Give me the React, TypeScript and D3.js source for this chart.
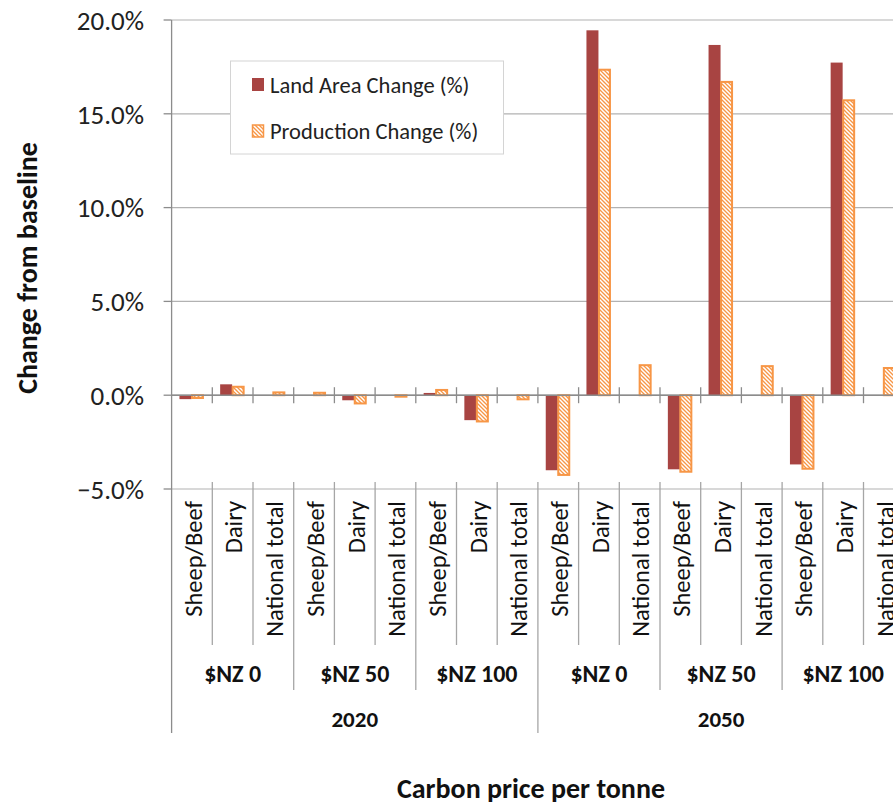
import React from "react";
import * as d3 from "d3";

// Categories (innermost level), carbon price groups, and years
const sectors = ["Sheep/Beef", "Dairy", "National total"];
const prices = ["$NZ 0", "$NZ 50", "$NZ 100"];
const years = ["2020", "2050"];

// Percent change from baseline, one value per sector x price x year
const landChange = [-0.21, 0.58, 0, 0, -0.27, 0, 0.12, -1.33, 0, -4.0, 19.45, 0, -3.95, 18.67, 0, -3.69, 17.73, 0];
const prodChange = [-0.15, 0.45, 0.15, 0.13, -0.44, -0.08, 0.28, -1.4, -0.22, -4.25, 17.35, 1.6, -4.08, 16.7, 1.55, -3.92, 15.72, 1.45];

const yTicks = [-5, 0, 5, 10, 15, 20];
const seriesNames = ["Land Area Change (%)", "Production Change (%)"];

const W = 893;
const H = 805;
const LAND = "#A84442";
const ORANGE = "#F79646";
const FONT = "Calibri, Carlito, Lato, sans-serif";

export default function App() {
  const keys = d3.range(landChange.length);
  const x = d3.scaleBand<number>().domain(keys).range([171.6, 171.6 + 18 * 40.7]);
  const y = d3.scaleLinear().domain([-5, 20]).range([489, 20]);
  const x0 = x.range()[0];
  const xEnd = x.range()[1];
  const step = x.step();
  const fmt = d3.format(".1f");

  const catLabel = (i: number) => sectors[i % 3];
  const groups = d3.range(6);

  return (
    <svg
      width={W}
      height={H}
      style={{ position: "absolute", left: 0, top: 0, background: "#fff" }}
      fontFamily={FONT}
    >
      <defs>
        <pattern id="hatch" patternUnits="userSpaceOnUse" width={4} height={4}>
          <rect width={4} height={4} fill={ORANGE} />
          <path d="M-1,-1 L5,5 M3,-1 L5,1 M-1,3 L1,5" stroke="#fff" strokeWidth={1.5} />
        </pattern>
      </defs>

      {/* horizontal gridlines */}
      {yTicks.map((t) => (
        <line key={t} x1={x0} x2={xEnd} y1={y(t)} y2={y(t)} stroke="#B2B2B2" strokeWidth={1.2} />
      ))}

      {/* y axis */}
      <line x1={x0} x2={x0} y1={y(20)} y2={733} stroke="#8C8C8C" strokeWidth={1.3} />
      {yTicks.map((t) => (
        <g key={t}>
          <line x1={x0 - 8} x2={x0} y1={y(t)} y2={y(t)} stroke="#8C8C8C" strokeWidth={1.3} />
          <text x={144} y={y(t)} dy="0.36em" textAnchor="end" fontSize={27} fill="#222">
            {fmt(t) + "%"}
          </text>
        </g>
      ))}

      {/* bars */}
      {keys.map((i) => {
        const c = (x(i) as number) + step / 2;
        const lv = landChange[i];
        const pv = prodChange[i];
        return (
          <g key={i}>
            {lv !== 0 && (
              <rect x={c - 12.5} width={12} y={Math.min(y(lv), y(0))} height={Math.abs(y(lv) - y(0))} fill={LAND} />
            )}
            {pv !== 0 && (
              <rect
                x={c}
                width={11}
                y={Math.min(y(pv), y(0))}
                height={Math.abs(y(pv) - y(0))}
                fill="url(#hatch)"
                stroke={ORANGE}
                strokeWidth={2}
              />
            )}
          </g>
        );
      })}

      {/* zero axis with crossing tick marks */}
      <line x1={x0} x2={xEnd} y1={y(0)} y2={y(0)} stroke="#8C8C8C" strokeWidth={1.5} />
      {d3.range(1, 18).map((k) => (
        <line key={k} x1={x0 + k * step} x2={x0 + k * step} y1={y(0) - 8} y2={y(0) + 8} stroke="#8C8C8C" strokeWidth={1.3} />
      ))}

      {/* multi-level category separators */}
      {d3.range(1, 19).map((k) => {
        const bottom = k % 9 === 0 ? 733 : k % 3 === 0 ? 690 : 645;
        return (
          <line key={k} x1={x0 + k * step} x2={x0 + k * step} y1={482} y2={bottom} stroke="#A6A6A6" strokeWidth={1.3} />
        );
      })}

      {/* sector labels */}
      {keys.map((i) => {
        const c = (x(i) as number) + step / 2;
        return (
          <text
            key={i}
            transform={`translate(${c + 1},501) rotate(-90)`}
            dy="0.36em"
            textAnchor="end"
            fontSize={24.5}
            fill="#111"
          >
            {catLabel(i)}
          </text>
        );
      })}

      {/* price labels */}
      {groups.map((g) => (
        <text key={g} x={x0 + (g * 3 + 1.5) * step} y={682} textAnchor="middle" fontSize={24} fontWeight="bold" fill="#111">
          {prices[g % 3]}
        </text>
      ))}

      {/* year labels */}
      {years.map((yr, j) => (
        <text key={yr} x={x0 + (j * 9 + 4.5) * step} y={727} textAnchor="middle" fontSize={23} fontWeight="bold" fill="#111">
          {yr}
        </text>
      ))}

      {/* axis titles */}
      <text x={531} y={798} textAnchor="middle" fontSize={28} fontWeight="bold" fill="#111">
        Carbon price per tonne
      </text>
      <text transform="translate(27,268) rotate(-90)" dy="0.36em" textAnchor="middle" fontSize={28} fontWeight="bold" fill="#111">
        Change from baseline
      </text>

      {/* legend */}
      <g>
        <rect x={230.5} y={61} width={273} height={93} fill="#fff" stroke="#D4D4D4" strokeWidth={1} />
        <rect x={252} y={78} width={12} height={13} fill={LAND} />
        <text x={270} y={85} dy="0.36em" fontSize={22.5} fill="#222">
          {seriesNames[0]}
        </text>
        <rect x={252.5} y={125} width={11} height={12} fill="url(#hatch)" stroke={ORANGE} strokeWidth={1.5} />
        <text x={270} y={131} dy="0.36em" fontSize={22.5} fill="#222">
          {seriesNames[1]}
        </text>
      </g>
    </svg>
  );
}
